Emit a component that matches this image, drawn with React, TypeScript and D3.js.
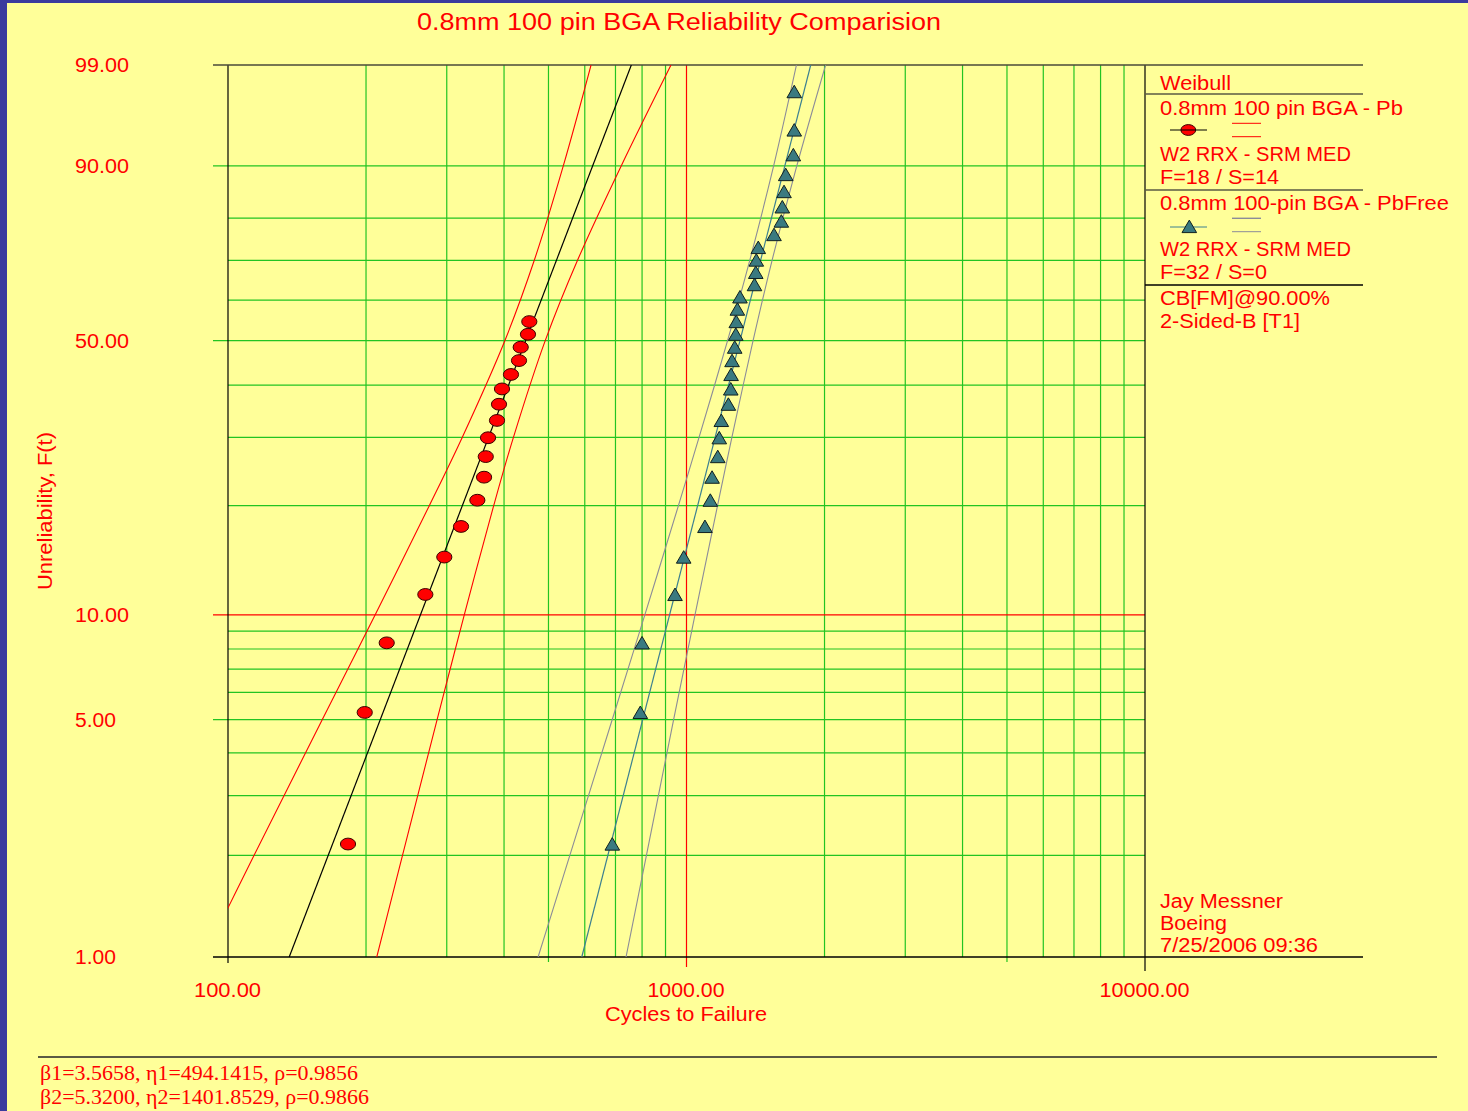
import React from 'react';
import * as d3 from 'd3';

const TITLE = '0.8mm 100 pin BGA Reliability Comparision';
const X_LABEL = 'Cycles to Failure';
const Y_LABEL = 'Unreliability, F(t)';

const xTicks = [100, 1000, 10000];
const xTickLabels = ['100.00', '1000.00', '10000.00'];
const yTicks = [99, 90, 50, 10, 5, 1];
const yTickLabels = ['99.00', '90.00', '50.00', '10.00', '5.00', '1.00'];
const xGrid = [200, 300, 400, 500, 600, 700, 800, 900, 2000, 3000, 4000, 5000, 6000, 7000, 8000, 9000];
const yGrid = [2, 3, 4, 5, 6, 7, 8, 9, 20, 30, 40, 50, 60, 70, 80, 90];

// Series 1: 0.8mm 100 pin BGA - Pb (F=18 / S=14)
const pbCycles = [182.7, 198.7, 221.9, 269.4, 296.3, 322.3, 349.8, 361.8, 364.9, 369.1, 386.1, 390.0, 395.9, 414.2, 431.2, 434.9, 451.1, 454.1];
const pbUnrel = [2.16, 5.25, 8.33, 11.42, 14.51, 17.59, 20.68, 23.77, 26.85, 29.94, 33.02, 36.11, 39.2, 42.28, 45.37, 48.46, 51.54, 54.63];

// Series 2: 0.8mm 100-pin BGA - PbFree (F=32 / S=0)
const pbFreeCycles = [688.9, 793.0, 799.8, 944.0, 986.0, 1097, 1127, 1137, 1170, 1179, 1191, 1234, 1249, 1251, 1257, 1274, 1281, 1284, 1291, 1308, 1407, 1416, 1420, 1434, 1552, 1610, 1618, 1632, 1646, 1710, 1718, 1718];
const pbFreeUnrel = [2.16, 5.25, 8.33, 11.42, 14.51, 17.59, 20.68, 23.77, 26.85, 29.94, 33.02, 36.11, 39.2, 42.28, 45.37, 48.46, 51.54, 54.63, 57.72, 60.8, 63.89, 66.98, 70.06, 73.15, 76.23, 79.32, 82.41, 85.49, 88.58, 91.67, 94.75, 97.84];

// Fitted Weibull lines (cycles, unreliability %)
const pbFit: [number, number][] = [[136, 1], [758, 99]];
const pbFreeFit: [number, number][] = [[591, 1], [1866, 99]];

// 90% two-sided Fisher bounds (cycles, unreliability %)
const pbLower: [number, number][] = [[88.5, 1], [114, 2], [160.5, 5], [209.3, 10], [274.8, 20], [324.2, 30], [401.6, 50], [465.6, 70], [538.6, 90], [619.2, 99]];
const pbUpper: [number, number][] = [[211.1, 1], [240.2, 2], [285.8, 5], [327.6, 10], [379.7, 20], [419.3, 30], [491.9, 50], [578.5, 70], [720.4, 90], [925.1, 99]];
const pbFreeLower: [number, number][] = [[474.6, 1], [556.6, 2], [688.5, 5], [811.2, 10], [960.2, 20], [1065, 30], [1229, 50], [1374, 70], [1549, 90], [1737, 99]];
const pbFreeUpper: [number, number][] = [[738.1, 1], [817.7, 2], [937.4, 5], [1043.6, 10], [1168.6, 20], [1256, 30], [1397, 50], [1537, 70], [1740, 90], [2011, 99]];

const legendLines = ['W2 RRX - SRM MED', 'F=18 / S=14', 'W2 RRX - SRM MED', 'F=32 / S=0'];
const paramLines = ['\u03b21=3.5658, \u03b71=494.1415, \u03c1=0.9856', '\u03b22=5.3200, \u03b72=1401.8529, \u03c1=0.9866'];
const footerLines = ['Jay Messner', 'Boeing', '7/25/2006 09:36'];

const SANS = "'Liberation Sans', Arial, sans-serif";
const SERIF = "'Liberation Serif', 'Times New Roman', serif";
const RED = '#ff0000';
const GREEN = '#22c422';
const TEAL = '#3d8090';
const GRAY = '#8c8c98';

function T(props: { x: number; y: number; w?: number; size: number; anchor?: string; family?: string; rotate?: boolean; children: React.ReactNode }) {
  const { x, y, w, size, anchor = 'start', family = SANS, rotate, children } = props;
  return (
    <text
      x={rotate ? 0 : x}
      y={rotate ? 0 : y}
      transform={rotate ? `translate(${x},${y}) rotate(-90)` : undefined}
      fontSize={size}
      fontFamily={family}
      fill={RED}
      textAnchor={anchor}
      textLength={w}
      lengthAdjust={w ? 'spacingAndGlyphs' : undefined}
    >
      {children}
    </text>
  );
}

export default function App() {
  const W = 1468, H = 1111;
  const L = 228, R = 1145, TOP = 65, BOT = 957;
  const x = d3.scaleLog().domain([100, 10000]).range([L, R]);
  const wb = (p: number) => Math.log(-Math.log(1 - p / 100));
  const yW = d3.scaleLinear().domain([wb(99), wb(1)]).range([TOP, BOT]);
  const y = (p: number) => yW(wb(p));
  const curve = d3.line<[number, number]>().x(d => x(d[0])).y(d => y(d[1])).curve(d3.curveCatmullRom.alpha(0.5));
  const straight = d3.line<[number, number]>().x(d => x(d[0])).y(d => y(d[1]));

  const tri = (cx: number, cy: number) => `M${cx},${cy - 6.4}L${cx + 7.3},${cy + 6.1}L${cx - 7.3},${cy + 6.1}Z`;

  const labeledY = new Set([90, 50, 5]);

  return (
    <svg width={W} height={H} style={{ position: 'absolute', left: 0, top: 0, display: 'block' }}>
      <defs>
        <clipPath id="plot"><rect x={L} y={TOP} width={R - L} height={BOT - TOP} /></clipPath>
      </defs>
      <rect x={0} y={0} width={W} height={H} fill="#3b3b9e" />
      <rect x={7} y={3} width={W - 7} height={H - 3} fill="#ffff99" />

      <T x={417} y={30} w={524} size={23}>{TITLE}</T>

      {/* horizontal grid */}
      {yGrid.map(p => (
        <line key={'hy' + p} x1={labeledY.has(p) ? 213 : L} x2={R} y1={y(p)} y2={y(p)} stroke={GREEN} strokeWidth={1.2} />
      ))}
      {/* vertical grid */}
      {xGrid.map(v => (
        <line key={'vx' + v} x1={x(v)} x2={x(v)} y1={TOP} y2={v === 500 || v === 5000 ? BOT + 5 : BOT} stroke={GREEN} strokeWidth={1.2} />
      ))}
      <line x1={213} x2={R} y1={y(10)} y2={y(10)} stroke={RED} strokeWidth={1.2} />
      <line x1={x(1000)} x2={x(1000)} y1={TOP} y2={BOT + 10} stroke={RED} strokeWidth={1.2} />
      <line x1={L} x2={L} y1={TOP} y2={BOT + 6} stroke="#000" strokeWidth={1.2} />
      <line x1={R} x2={R} y1={TOP} y2={BOT + 14} stroke="#000" strokeWidth={1.2} />
      <line x1={213} x2={1363} y1={TOP} y2={TOP} stroke="#4a4a3a" strokeWidth={1.5} />
      <line x1={213} x2={1363} y1={BOT} y2={BOT} stroke="#000" strokeWidth={1.5} />

      {/* legend separators */}
      <line x1={R} x2={1363} y1={94} y2={94} stroke="#5a5a44" strokeWidth={1.5} />
      <line x1={R} x2={1363} y1={190} y2={190} stroke="#5a5a44" strokeWidth={1.5} />
      <line x1={R} x2={1363} y1={285} y2={285} stroke="#000" strokeWidth={1.3} />

      {/* bounds & fits */}
      <g clipPath="url(#plot)" fill="none">
        <path d={curve(pbLower) || ''} stroke={RED} strokeWidth={1.1} />
        <path d={curve(pbUpper) || ''} stroke={RED} strokeWidth={1.1} />
        <path d={straight(pbFit) || ''} stroke="#000" strokeWidth={1.2} />
        <path d={curve(pbFreeLower) || ''} stroke={GRAY} strokeWidth={1.1} />
        <path d={curve(pbFreeUpper) || ''} stroke={GRAY} strokeWidth={1.1} />
        <path d={straight(pbFreeFit) || ''} stroke={TEAL} strokeWidth={1.2} />
      </g>

      {/* points */}
      {pbCycles.map((c, i) => (
        <ellipse key={'pb' + i} cx={x(c)} cy={y(pbUnrel[i])} rx={7.6} ry={5.9} fill="#ff0000" stroke="#3a0000" strokeWidth={1} />
      ))}
      {pbFreeCycles.map((c, i) => (
        <path key={'pf' + i} d={tri(x(c), y(pbFreeUnrel[i]))} fill="#3a7a80" stroke="#102020" strokeWidth={1} />
      ))}

      {/* y tick labels */}
      {yTicks.map((p, i) => (
        <T key={'yl' + p} x={75} y={y(p) + 7} w={yTickLabels[i].length === 5 ? 54 : 41} size={20}>{yTickLabels[i]}</T>
      ))}
      {/* x tick labels */}
      {xTicks.map((v, i) => (
        <T key={'xl' + v} x={x(v) - 0.5} y={997} w={[67, 77, 90][i]} size={20} anchor="middle">{xTickLabels[i]}</T>
      ))}
      <T x={686} y={1021} w={162} size={20} anchor="middle">{X_LABEL}</T>
      <T x={52} y={511} w={158} size={20} anchor="middle" rotate>{Y_LABEL}</T>

      {/* legend */}
      <T x={1160} y={90} w={71} size={20}>Weibull</T>
      <T x={1160} y={115} w={243} size={20}>0.8mm 100 pin BGA - Pb</T>
      <line x1={1170} x2={1207} y1={130} y2={130} stroke="#000" strokeWidth={1} />
      <ellipse cx={1188.3} cy={130} rx={7.4} ry={5.4} fill="#ff0000" stroke="#3a0000" strokeWidth={1} />
      <line x1={1181} x2={1196} y1={130} y2={130} stroke="#000" strokeWidth={1} />
      <line x1={1232} x2={1261} y1={123.3} y2={123.3} stroke={RED} strokeWidth={1} />
      <line x1={1232} x2={1261} y1={136.7} y2={136.7} stroke={RED} strokeWidth={1} />
      <T x={1160} y={161} w={191} size={20}>{legendLines[0]}</T>
      <T x={1160} y={184.3} w={119} size={20}>{legendLines[1]}</T>
      <T x={1160} y={210} w={289} size={20}>0.8mm 100-pin BGA - PbFree</T>
      <line x1={1170} x2={1207} y1={227} y2={227} stroke={TEAL} strokeWidth={1} />
      <path d={tri(1189.3, 226.5)} fill="#3a7a80" stroke="#102020" strokeWidth={1} />
      <line x1={1232} x2={1261} y1={218.3} y2={218.3} stroke={GRAY} strokeWidth={1.4} />
      <line x1={1232} x2={1261} y1={231.7} y2={231.7} stroke={GRAY} strokeWidth={1} />
      <T x={1160} y={256} w={191} size={20}>{legendLines[2]}</T>
      <T x={1160} y={279} w={107} size={20}>{legendLines[3]}</T>
      <T x={1160} y={305} w={170} size={20}>CB[FM]@90.00%</T>
      <T x={1160} y={328.3} w={140} size={20}>2-Sided-B [T1]</T>

      {footerLines.map((s, i) => (
        <T key={'f' + i} x={1160} y={908.3 + i * 21.7} w={[123, 67, 158][i]} size={20}>{s}</T>
      ))}

      {/* parameters footer */}
      <line x1={38} x2={1437} y1={1057} y2={1057} stroke="#5a5a44" strokeWidth={2} />
      <T x={40} y={1080} w={318} size={20} family={SERIF}>{paramLines[0]}</T>
      <T x={40} y={1104} w={329} size={20} family={SERIF}>{paramLines[1]}</T>
    </svg>
  );
}
